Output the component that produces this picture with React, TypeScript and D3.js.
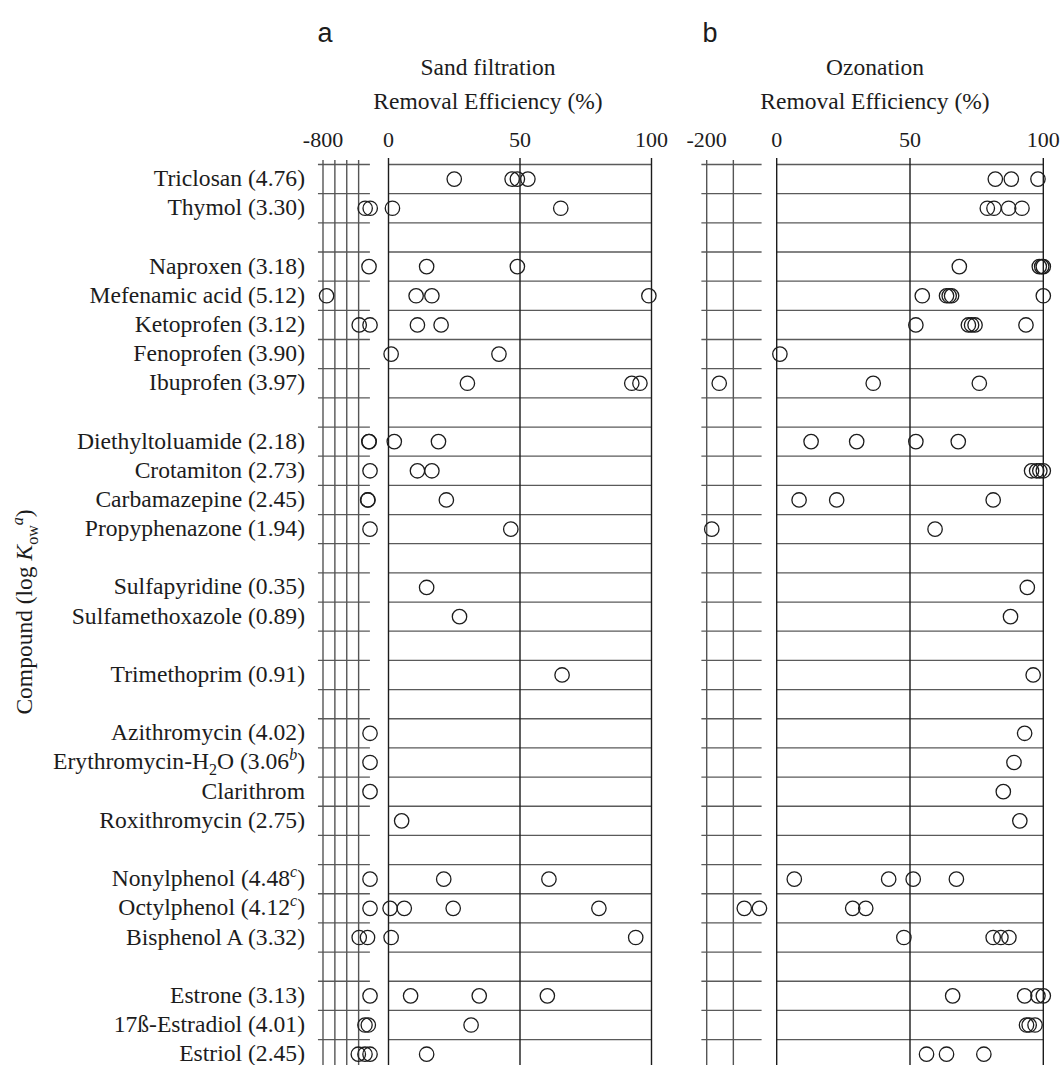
import React from "react";
import * as d3 from "d3";

// one entry per row, "" = spacer row between compound groups
const compounds = [
  "Triclosan (4.76)",
  "Thymol (3.30)",
  "",
  "Naproxen (3.18)",
  "Mefenamic acid (5.12)",
  "Ketoprofen (3.12)",
  "Fenoprofen (3.90)",
  "Ibuprofen (3.97)",
  "",
  "Diethyltoluamide (2.18)",
  "Crotamiton (2.73)",
  "Carbamazepine (2.45)",
  "Propyphenazone (1.94)",
  "",
  "Sulfapyridine (0.35)",
  "Sulfamethoxazole (0.89)",
  "",
  "Trimethoprim (0.91)",
  "",
  "Azithromycin (4.02)",
  "Erythromycin-H_{2}O (3.06^{b})",
  "Clarithrom",
  "Roxithromycin (2.75)",
  "",
  "Nonylphenol (4.48^{c})",
  "Octylphenol (4.12^{c})",
  "Bisphenol A (3.32)",
  "",
  "Estrone (3.13)",
  "17ß-Estradiol (4.01)",
  "Estriol (2.45)",
];

// sand filtration, negative (broken) part of the axis
const sandNeg = [
  [], [-90, -5], [], [-25], [-740], [-190, -8], [], [], [],
  [-28, -22], [-8], [-48, -42], [-8], [], [], [], [], [], [],
  [-8], [-8], [-8], [], [], [-8], [-8], [-190, -50], [],
  [-8], [-93, -37], [-205, -93, -8],
];
// sand filtration, 0-100 %
const sandPos = [
  [25, 47, 49, 53], [1.5, 65.5], [], [14.5, 49], [10.5, 16.5, 99], [11, 20],
  [1, 42], [30, 92.5, 95.6], [], [2.2, 19], [11, 16.5], [22], [46.5], [],
  [14.5], [27], [], [66], [], [], [], [], [5], [], [21, 61],
  [0.6, 6, 24.6, 80], [1, 94], [], [8.4, 34.5, 60.4], [31.4], [14.5],
];
// ozonation, negative part
const ozoneNeg = [
  [], [], [], [], [], [], [], [-153], [], [], [], [], [-181], [], [], [], [],
  [], [], [], [], [], [], [], [], [-59, -2], [], [], [], [], [],
];
// ozonation, 0-100 %
const ozonePos = [
  [82, 88, 98], [79, 81.5, 87, 92], [], [68.5, 98.5, 99.4, 100],
  [54.6, 63.7, 64.7, 65.6, 100], [52.2, 71.9, 73.1, 74.4, 93.5], [1.2],
  [36.2, 76], [], [12.9, 30, 52.2, 68.1], [95.6, 97.5, 98.7, 100],
  [8.4, 22.5, 81.2], [59.4], [], [94], [87.7], [], [96.2], [], [93], [89],
  [85], [91.2], [], [6.6, 42, 51.2, 67.4], [28.5, 33.4],
  [47.7, 81.2, 84.1, 87.1], [], [66, 93, 98, 100], [93.7, 94.7, 96.9],
  [56.2, 63.7, 77.7],
];

const posTicks = [0, 50, 100];
const sandNegGrid = [-800, -600, -400, -200];
const sandNegTicks = [-800];
const ozoneNegGrid = [-200, -100];
const ozoneNegTicks = [-200];

const W = 1063;
const H = 1065;
const serif = "'Liberation Serif', 'Times New Roman', serif";
const sans = "'Liberation Sans', Arial, sans-serif";
const ink = "#1c1c1c";
const rule = "#5a5a5a";

// text with _{sub} and ^{sup} parts
function rich(s: string) {
  const parts = s.split(/(_\{[^}]*\}|\^\{[^}]*\})/).filter((p) => p !== "");
  let off = 0;
  return parts.map((p, i) => {
    if (p.startsWith("_{")) {
      const dy = 6 - off;
      off = 6;
      return (
        <tspan key={i} dy={dy} fontSize={16}>
          {p.slice(2, -1)}
        </tspan>
      );
    }
    if (p.startsWith("^{")) {
      const dy = -9 - off;
      off = -9;
      return (
        <tspan key={i} dy={dy} fontSize={16} fontStyle="italic">
          {p.slice(2, -1)}
        </tspan>
      );
    }
    const dy = -off;
    off = 0;
    return (
      <tspan key={i} dy={dy}>
        {p}
      </tspan>
    );
  });
}

const rows = d3.range(compounds.length);
const y = d3
  .scaleBand<number>()
  .domain(rows)
  .range([164.5, 164.5 + compounds.length * 29.17]);

const panels = [
  {
    letter: "a",
    title: "Sand filtration",
    letterX: 325,
    titleX: 488,
    neg: d3.scaleLinear().domain([-800, 0]).range([323, 370.5]),
    negExtent: [-885, -10],
    negGrid: sandNegGrid,
    negTicks: sandNegTicks,
    pos: d3.scaleLinear().domain([0, 100]).range([388.5, 651.5]),
    negData: sandNeg,
    posData: sandPos,
  },
  {
    letter: "b",
    title: "Ozonation",
    letterX: 710,
    titleX: 875,
    neg: d3.scaleLinear().domain([-200, 0]).range([706.7, 760]),
    negExtent: [-220, 6],
    negGrid: ozoneNegGrid,
    negTicks: ozoneNegTicks,
    pos: d3.scaleLinear().domain([0, 100]).range([776.7, 1043.3]),
    negData: ozoneNeg,
    posData: ozonePos,
  },
];

const Panel = ({ p }: { p: (typeof panels)[number] }) => {
  const bounds = d3.range(compounds.length + 1).map((i) =>
    i < compounds.length ? (y(i) as number) : y.range()[1]
  );
  const [x0, x1] = p.pos.domain();
  return (
    <g>
      <text x={p.letterX} y={42} fontFamily={sans} fontSize={27} textAnchor="middle" fill={ink}>
        {p.letter}
      </text>
      <text x={p.titleX} y={75} fontFamily={serif} fontSize={23.5} textAnchor="middle" fill={ink}>
        {p.title}
      </text>
      <text x={p.titleX} y={109} fontFamily={serif} fontSize={23.5} textAnchor="middle" fill={ink}>
        Removal Efficiency (%)
      </text>
      {p.negTicks.map((t) => (
        <text key={t} x={p.neg(t)} y={147} fontFamily={serif} fontSize={22} textAnchor="middle" fill={ink}>
          {t}
        </text>
      ))}
      {posTicks.map((t) => (
        <text key={t} x={p.pos(t)} y={147} fontFamily={serif} fontSize={22} textAnchor="middle" fill={ink}>
          {t}
        </text>
      ))}
      {/* row rules */}
      {bounds.map((b, i) => (
        <g key={i}>
          <line x1={p.neg(p.negExtent[0])} x2={p.neg(p.negExtent[1])} y1={b} y2={b} stroke={rule} strokeWidth={1.3} />
          <line x1={p.pos(x0)} x2={p.pos(x1)} y1={b} y2={b} stroke={rule} strokeWidth={1.3} />
        </g>
      ))}
      {/* vertical grid */}
      {p.negGrid.map((t) => (
        <line key={t} x1={p.neg(t)} x2={p.neg(t)} y1={160} y2={H} stroke="#555" strokeWidth={1.4} />
      ))}
      {posTicks.map((t) => (
        <line key={t} x1={p.pos(t)} x2={p.pos(t)} y1={158} y2={H} stroke={ink} strokeWidth={1.4} />
      ))}
      {/* points */}
      {rows.map((r) => {
        const cy = (y(r) as number) + y.bandwidth() / 2;
        return (
          <g key={r}>
            {p.negData[r].map((v, j) => (
              <circle key={"n" + j} cx={p.neg(v)} cy={cy} r={7.2} fill="none" stroke={ink} strokeWidth={1.3} />
            ))}
            {p.posData[r].map((v, j) => (
              <circle key={"p" + j} cx={p.pos(v)} cy={cy} r={7.2} fill="none" stroke={ink} strokeWidth={1.3} />
            ))}
          </g>
        );
      })}
    </g>
  );
};

export default function App() {
  return (
    <svg
      width={W}
      height={H}
      style={{ position: "absolute", left: 0, top: 0, background: "#fff" }}
    >
      <rect width={W} height={H} fill="#fff" />
      {rows.map((r) =>
        compounds[r] ? (
          <text
            key={r}
            x={305}
            y={(y(r) as number) + y.bandwidth() / 2 + 7}
            fontFamily={serif}
            fontSize={23.6}
            textAnchor="end"
            fill={ink}
          >
            {rich(compounds[r])}
          </text>
        ) : null
      )}
      <text
        transform="translate(32,612) rotate(-90)"
        fontFamily={serif}
        fontSize={23.5}
        textAnchor="middle"
        fill={ink}
      >
        Compound (log <tspan fontStyle="italic">K</tspan>
        <tspan dy={6} fontSize={16}>ow</tspan>
        <tspan dy={-15} fontSize={16} fontStyle="italic">a</tspan>
        <tspan dy={9}>)</tspan>
      </text>
      {panels.map((p) => (
        <Panel key={p.letter} p={p} />
      ))}
    </svg>
  );
}
